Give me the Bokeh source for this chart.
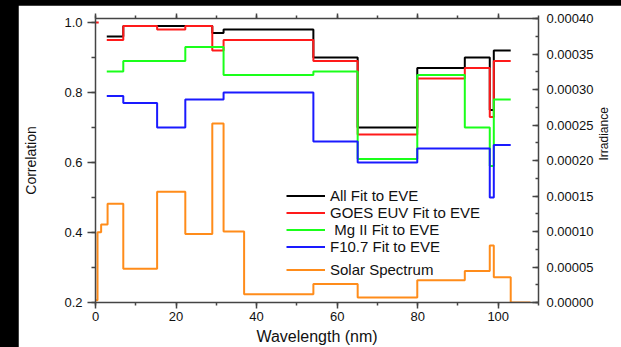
import math
from bokeh.plotting import figure
from bokeh.models import (Range1d, LinearAxis, SingleIntervalTicker, NumeralTickFormatter,
                          Legend, LegendItem, CustomJSTickFormatter)
from bokeh.layouts import column
from bokeh.embed import file_html
from bokeh.resources import INLINE

# ---------------- data ----------------
fit_edges = [2.8, 6.9, 15.3, 22.3, 29.0, 31.8, 54.1, 65.1, 79.9, 91.7, 97.9, 98.9, 103.1]
all_fit  = [0.96, 0.99, 0.99, 0.99, 0.97, 0.98, 0.90, 0.70, 0.87, 0.90, 0.75, 0.92]
goes_fit = [0.95, 0.99, 0.98, 0.99, 0.92, 0.95, 0.89, 0.68, 0.84, 0.87, 0.73, 0.89]
mg2_fit  = [0.86, 0.89, 0.89, 0.93, 0.93, 0.85, 0.86, 0.61, 0.85, 0.70, 0.59, 0.78]
f107_fit = [0.79, 0.77, 0.70, 0.78, 0.78, 0.80, 0.66, 0.60, 0.64, 0.64, 0.50, 0.65]
goes_start_x = [0.0, 0.8]
goes_start_y = [1.0, 1.0]

solar_edges = [0.0, 0.5, 1.4, 3.0, 6.9, 15.3, 22.3, 29.0, 31.8, 36.9, 54.1, 65.1,
               79.9, 91.7, 97.9, 98.9, 103.1, 108.0]
solar_irr = [0.000003, 0.000099, 0.000110, 0.000139, 0.0000476, 0.000156, 0.0000966,
             0.000252, 0.0000999, 0.0000116, 0.000026, 0.000007, 0.0000312, 0.0000443,
             0.0000802, 0.0000354, 0.0]

series_labels = ["All Fit to EVE", "GOES EUV Fit to EVE", " Mg II Fit to EVE",
                 "F10.7 Fit to EVE", "Solar Spectrum"]
series_colors = ["#000000", "#ff1a1a", "#1aff1a", "#1a1aff", "#ff8c1a"]


def stairs(edges, vals):
    return list(edges), list(vals) + [vals[-1]]


FONT = "Liberation Sans"
AXIS_COLOR = "#444444"

p = figure(width=603, height=342, x_range=Range1d(0, 110), y_range=Range1d(0.2, 1.0114),
           x_axis_type=None, y_axis_type=None, output_backend="svg", toolbar_location=None,
           min_border_left=77, min_border_right=79, min_border_top=13, min_border_bottom=45)
p.extra_y_ranges = {"irr": Range1d(0, 0.0004)}
p.xgrid.visible = False
p.ygrid.visible = False
p.outline_line_color = None
p.background_fill_color = "white"
p.border_fill_color = "white"


def style(ax, tick_in=0, tick_out=0, minor_in=0, minor_out=0):
    ax.axis_line_color = AXIS_COLOR
    ax.axis_line_width = 1.5
    ax.major_tick_line_color = AXIS_COLOR
    ax.minor_tick_line_color = AXIS_COLOR
    ax.major_tick_line_width = 1.5
    ax.minor_tick_line_width = 1.5
    ax.major_tick_in = tick_in
    ax.major_tick_out = tick_out
    ax.minor_tick_in = minor_in
    ax.minor_tick_out = minor_out
    ax.major_label_text_font = FONT
    ax.major_label_text_font_size = "13px"
    ax.major_label_text_color = "#111111"
    ax.axis_label_text_font = FONT
    ax.axis_label_text_font_style = "normal"
    ax.axis_label_text_color = "#111111"


left = LinearAxis(ticker=SingleIntervalTicker(interval=0.2, num_minor_ticks=2),
                  formatter=NumeralTickFormatter(format="0.0"), axis_label="Correlation")
style(left, tick_out=8, minor_out=4)
left.major_label_standoff = 5
left.axis_label_standoff = 22
left.axis_label_text_font_size = "14px"
p.add_layout(left, "left")

bottom = LinearAxis(ticker=SingleIntervalTicker(interval=20, num_minor_ticks=2),
                    axis_label="Wavelength (nm)")
style(bottom, tick_out=6, minor_out=3)
bottom.major_label_standoff = 3
bottom.axis_label_standoff = 4
bottom.axis_label_text_font_size = "16px"
p.add_layout(bottom, "below")

top = LinearAxis(ticker=SingleIntervalTicker(interval=20, num_minor_ticks=2),
                 formatter=CustomJSTickFormatter(code="return ''"))
style(top, tick_out=5, minor_out=3)
top.major_label_standoff = 0
p.add_layout(top, "above")

right = LinearAxis(y_range_name="irr",
                   ticker=SingleIntervalTicker(interval=0.00005, num_minor_ticks=2),
                   formatter=NumeralTickFormatter(format="0.00000"), axis_label="Irradiance")
style(right, tick_in=6, minor_in=3)
right.major_label_standoff = 8
right.axis_label_standoff = 8
right.axis_label_text_font_size = "12px"
right.axis_label_orientation = math.pi / 2
right.axis_label_text_baseline = "bottom"
p.add_layout(right, "right")

renderers = []
for vals, col in zip([all_fit, goes_fit, mg2_fit, f107_fit], series_colors[:4]):
    xs, ys = stairs(fit_edges, vals)
    renderers.append(p.step(xs, ys, mode="after", line_color=col, line_width=2))
p.line(goes_start_x, goes_start_y, line_color=series_colors[1], line_width=2)

sx, sy = stairs(solar_edges, solar_irr)
r_solar = p.step(sx, sy, mode="after", line_color=series_colors[4], line_width=2,
                 y_range_name="irr")


def make_legend(items, loc):
    lg = Legend(items=items, location=loc)
    lg.padding = 0
    lg.margin = 0
    lg.spacing = 0
    lg.border_line_color = None
    lg.background_fill_alpha = 0
    lg.glyph_width = 39
    lg.glyph_height = 17
    lg.label_height = 17
    lg.label_standoff = 5
    lg.label_text_font = FONT
    lg.label_text_font_size = "15px"
    lg.label_text_color = "#111111"
    return lg


leg1 = make_legend([LegendItem(label=series_labels[i], renderers=[renderers[i]]) for i in range(4)],
                   (191, 47))
leg2 = make_legend([LegendItem(label=series_labels[4], renderers=[r_solar])], (191, 24))
p.add_layout(leg1)
p.add_layout(leg2)

p.margin = (5, 0, 0, 18)
layout = column(p, width=621, height=347, styles={"background-color": "black"})

open("out.html", "w").write(file_html(layout, INLINE))
